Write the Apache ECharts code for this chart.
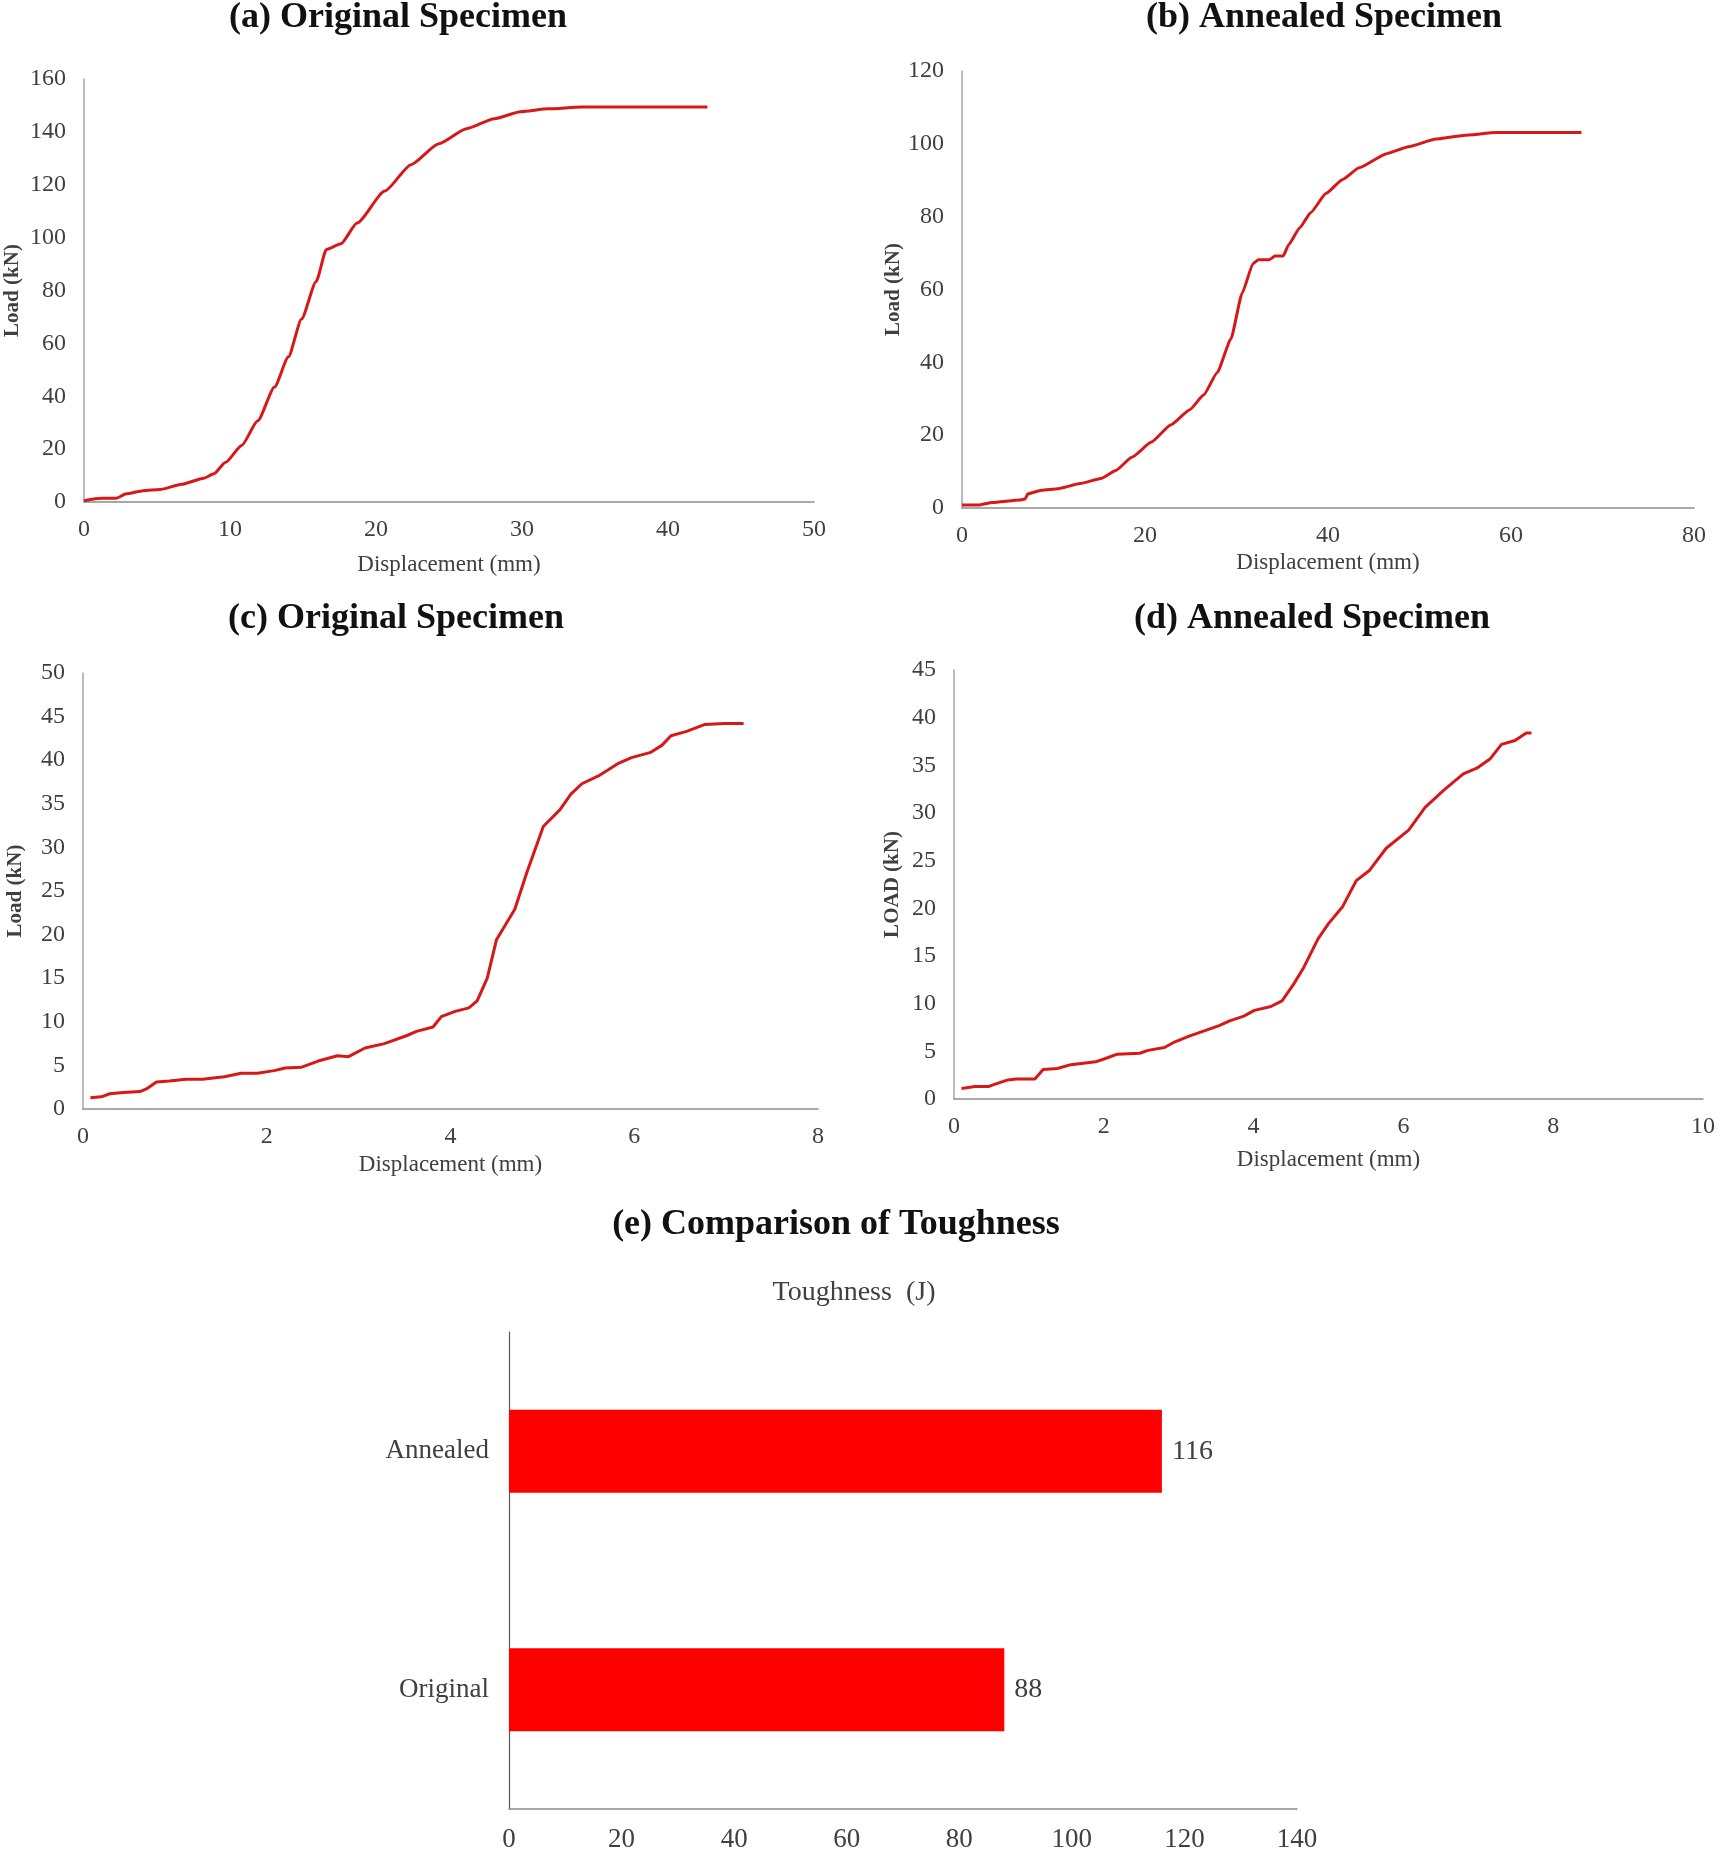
<!DOCTYPE html>
<html><head><meta charset="utf-8">
<script src="https://cdn.jsdelivr.net/npm/echarts@6/dist/echarts.min.js"></script>
<style>html,body{margin:0;padding:0;background:#fff}#c{width:1720px;height:1854px}</style>
</head><body><div id="c"></div>
<script>
// (a) Original specimen – load vs displacement
const aX = [0, 1.2, 2.2, 2.9, 4.05, 5.2, 6.7, 8.2, 8.9, 9.7, 10.8, 11.9, 13.05, 14.0, 14.9, 15.9, 16.6, 17.6, 18.7, 20.6, 22.4, 24.3, 26.2, 28.1, 29.9, 31.8, 34.1, 42.7];
const aY = [0.5, 1.4, 1.4, 3.1, 4.3, 4.7, 6.7, 9.0, 10.7, 15, 21.4, 30.7, 43.5, 54.9, 69.2, 83.4, 95.5, 97.7, 105.5, 117.6, 127.6, 135.5, 141.2, 145, 147.6, 148.7, 149.4, 149.4];
// (b) Annealed specimen
const bX = [0, 1.8, 3.3, 6.3, 6.9, 7.2, 8.7, 10.5, 12.9, 15.3, 16.8, 18.6, 20.7, 22.8, 24.9, 26.4, 27.9, 29.4, 30.6, 31.8, 32.4, 33.6, 34.2, 35.1, 35.7, 36.9, 38.1, 39.8, 41.6, 43.4, 46.4, 48.8, 51.8, 54.8, 58.4, 67.7];
const bY = [0.8, 0.8, 1.5, 2.2, 2.5, 3.9, 4.9, 5.3, 6.7, 8.2, 10.3, 14, 18.1, 22.8, 27, 31, 37.2, 46.5, 58.9, 67.1, 68.2, 68.2, 69.2, 69.2, 72.3, 76.9, 81.1, 86.4, 90.2, 93.4, 97.3, 99.2, 101.3, 102.3, 103.1, 103.1];
// (c) Original specimen
const cX = [0.08, 0.2, 0.29, 0.44, 0.62, 0.69, 0.8, 0.94, 1.12, 1.3, 1.54, 1.72, 1.9, 2.08, 2.2, 2.38, 2.56, 2.77, 2.89, 3.07, 3.28, 3.52, 3.63, 3.81, 3.9, 4.05, 4.2, 4.29, 4.4, 4.5, 4.7, 4.83, 5.01, 5.19, 5.31, 5.43, 5.61, 5.82, 5.97, 6.18, 6.3, 6.4, 6.57, 6.77, 6.98, 7.19];
const cY = [1.3, 1.4, 1.75, 1.9, 2.0, 2.3, 3.1, 3.2, 3.4, 3.4, 3.7, 4.1, 4.1, 4.4, 4.7, 4.8, 5.5, 6.1, 6.0, 7.0, 7.5, 8.4, 8.9, 9.4, 10.6, 11.2, 11.6, 12.4, 15, 19.4, 22.9, 27.1, 32.4, 34.3, 36.1, 37.3, 38.2, 39.6, 40.3, 40.9, 41.7, 42.8, 43.3, 44.1, 44.2, 44.2];
// (d) Annealed specimen
const dX = [0.1, 0.28, 0.46, 0.53, 0.72, 0.83, 1.08, 1.19, 1.38, 1.56, 1.78, 1.89, 2.04, 2.18, 2.48, 2.59, 2.81, 2.95, 3.14, 3.36, 3.54, 3.68, 3.87, 4.01, 4.23, 4.38, 4.53, 4.67, 4.86, 5.0, 5.19, 5.37, 5.55, 5.77, 6.07, 6.29, 6.54, 6.8, 6.98, 7.16, 7.31, 7.49, 7.64, 7.71];
const dY = [1.1, 1.3, 1.3, 1.5, 2.0, 2.1, 2.1, 3.1, 3.2, 3.6, 3.8, 3.9, 4.3, 4.7, 4.8, 5.1, 5.4, 6.0, 6.6, 7.2, 7.7, 8.2, 8.7, 9.3, 9.7, 10.3, 12.0, 13.8, 16.8, 18.4, 20.2, 22.9, 24.0, 26.3, 28.2, 30.6, 32.4, 34.1, 34.7, 35.7, 37.2, 37.6, 38.4, 38.4];
// (e) Toughness comparison
const eCategories = ['Original', 'Annealed'];
const eValues = [88, 116];

const zip = (xs, ys) => xs.map((x, i) => [x, ys[i]]);
const FONT = '"Liberation Serif", "DejaVu Serif", serif';
const TXT = '#404040';
const LINE = '#d61818';

function xAx(idx, max, interval, gap) {
  return {
    type: 'value', gridIndex: idx, min: 0, max: max, interval: interval,
    name: 'Displacement (mm)', nameLocation: 'middle', nameGap: gap,
    nameTextStyle: { fontFamily: FONT, fontSize: 23, color: TXT },
    axisLine: { show: true, onZero: false, lineStyle: { color: '#8c8c8c', width: 1.5 } },
    axisTick: { show: false }, splitLine: { show: false },
    axisLabel: { fontFamily: FONT, fontSize: 24, color: TXT, margin: 16 }
  };
}
function yAx(idx, max, interval, name, gap) {
  return {
    type: 'value', gridIndex: idx, min: 0, max: max, interval: interval,
    name: name, nameLocation: 'middle', nameGap: gap,
    nameTextStyle: { fontFamily: FONT, fontSize: 21, color: TXT, fontWeight: 'bold' },
    axisLine: { show: true, lineStyle: { color: '#a6a6a6', width: 1.5 } },
    axisTick: { show: false }, splitLine: { show: false },
    axisLabel: { fontFamily: FONT, fontSize: 24, color: TXT, margin: 18 }
  };
}
function lineSeries(idx, data, smooth) {
  return { type: 'line', xAxisIndex: idx, yAxisIndex: idx, data: data, showSymbol: false,
    symbol: 'none', smooth: smooth, smoothMonotone: 'x',
    lineStyle: { color: LINE, width: 3 }, animation: false };
}
function titleText(text, x, y, size, bold) {
  return { type: 'text', x: x, y: y, style: { text: text, fontFamily: FONT, fontSize: size,
    fontWeight: bold ? 'bold' : 'normal', fill: bold ? '#111' : TXT, textAlign: 'center', textVerticalAlign: 'middle' } };
}

const chart = echarts.init(document.getElementById('c'));
chart.setOption({
  backgroundColor: '#fff',
  animation: false,
  graphic: [
    titleText('(a) Original Specimen', 398, 18, 36, true),
    titleText('(b) Annealed Specimen', 1324, 18, 36, true),
    titleText('(c) Original Specimen', 396, 619, 36, true),
    titleText('(d) Annealed Specimen', 1312, 619, 36, true),
    titleText('(e) Comparison of Toughness', 836, 1225, 36, true),
    titleText('Toughness  (J)', 854, 1293, 28, false)
  ],
  grid: [
    { left: 84, top: 79, width: 730, height: 423 },
    { left: 962, top: 71, width: 732, height: 437 },
    { left: 83, top: 673, width: 735, height: 436 },
    { left: 954, top: 670, width: 749, height: 429 },
    { left: 509, top: 1332, width: 788, height: 477 }
  ],
  xAxis: [
    xAx(0, 50, 10, 51),
    xAx(1, 80, 20, 43),
    xAx(2, 8, 2, 44),
    xAx(3, 10, 2, 49),
    { type: 'value', gridIndex: 4, min: 0, max: 140, interval: 20,
      axisLine: { show: true, lineStyle: { color: '#8c8c8c', width: 1.5 } },
      axisTick: { show: false }, splitLine: { show: false },
      axisLabel: { fontFamily: FONT, fontSize: 27, color: TXT, margin: 17 } }
  ],
  yAxis: [
    yAx(0, 160, 20, 'Load (kN)', 61),
    yAx(1, 120, 20, 'Load (kN)', 53),
    yAx(2, 50, 5, 'Load (kN)', 57),
    yAx(3, 45, 5, 'LOAD (kN)', 51),
    { type: 'category', gridIndex: 4, data: eCategories,
      axisLine: { show: true, lineStyle: { color: '#595959', width: 1.2 } },
      axisTick: { show: false }, splitLine: { show: false },
      axisLabel: { fontFamily: FONT, fontSize: 27, color: TXT, margin: 20 } }
  ],
  series: [
    lineSeries(0, zip(aX, aY), 0.2),
    lineSeries(1, zip(bX, bY), 0.15),
    lineSeries(2, zip(cX, cY), false),
    lineSeries(3, zip(dX, dY), false),
    { type: 'bar', xAxisIndex: 4, yAxisIndex: 4, data: eValues, barWidth: 83,
      itemStyle: { color: '#ff0000' },
      label: { show: true, position: 'right', distance: 10, fontFamily: FONT, fontSize: 28, color: TXT } }
  ]
});
</script></body></html>
